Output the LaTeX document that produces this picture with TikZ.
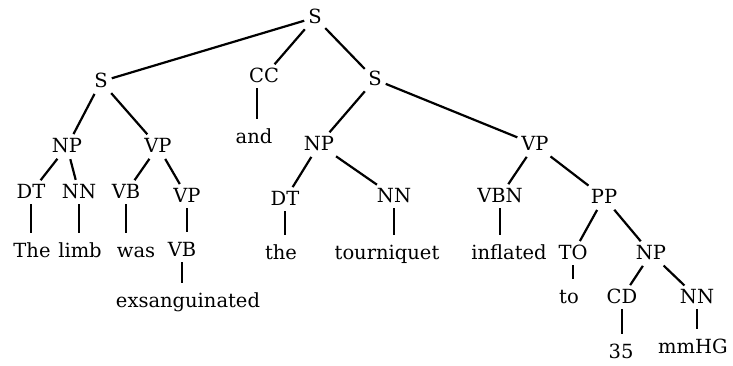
\documentclass[tikz,border=0pt]{standalone}
\usepackage{fontspec}
\setmainfont{DejaVu Serif}
\usepackage{tikz}
\usetikzlibrary{positioning}

\begin{document}
\begin{tikzpicture}[x=1pt, y=-1pt, font=\fontsize{19.5}{22}\selectfont,
  tag/.style={anchor=base, inner sep=2pt, text height=14pt, text depth=3pt},
  branch/.style={line width=2.2pt, shorten <=2pt, shorten >=2pt},
  stem/.style={line width=2.2pt, shorten <=1pt, shorten >=8pt}]
\useasboundingbox (0,0) rectangle (733,365);

%%% top level
\node [tag] (s0) at (315,23) {S};
\node [tag] (s1) at (101,87) {S};
\node [tag] (cc) at (264,82) {CC};
\node [tag] (s2) at (375,85) {S};
\node [tag] (and) at (254,143) {and};

%%% LEFT CLAUSE
\node [tag] (np1) at (67,152) {NP};
\node [tag] (vp1) at (158,152) {VP};
\node [tag] (dt1) at (31,198) {DT};
\node [tag] (nn1) at (79,198) {NN};
\node [tag] (vb1) at (126,198) {VB};
\node [tag] (vp3) at (187,202) {VP};
\node [tag] (w-the) at (32,257) {The};
\node [tag] (w-limb) at (80,257) {limb};
\node [tag] (w-was) at (136,257) {was};
\node [tag] (vb2) at (182,256) {VB};
\node [tag] (w-exs) at (188,307) {exsanguinated};

%%% RIGHT CLAUSE
\node [tag] (np2) at (319,150) {NP};
\node [tag] (vp2) at (535,150) {VP};
\node [tag] (dt2) at (285,205) {DT};
\node [tag] (nn2) at (394,202) {NN};
\node [tag] (vbn) at (500,202) {VBN};
\node [tag] (pp) at (604,203) {PP};
\node [tag] (w-the2) at (281,259) {the};
\node [tag] (w-tourniquet) at (387,259) {tourniquet};
\node [tag] (w-inflated) at (509,259) {inflated};
\node [tag] (to) at (573,259) {TO};
\node [tag] (np3) at (651,259) {NP};
\node [tag] (w-to) at (569,303) {to};
\node [tag] (cd) at (622,303) {CD};
\node [tag] (nn3) at (697,303) {NN};
\node [tag] (w-35) at (621,358) {35};
\node [tag] (w-mmhg) at (693,353) {mmHG};

%%% branches
\draw [branch] (s0) -- (s1);
\draw [branch] (s0) -- (cc);
\draw [branch] (s0) -- (s2);
\draw [branch] (s1) -- (np1);
\draw [branch] (s1) -- (vp1);
\draw [branch] (np1) -- (dt1);
\draw [branch] (np1) -- (nn1);
\draw [branch] (vp1) -- (vb1);
\draw [branch] (vp1) -- (vp3);
\draw [branch] (s2) -- (np2);
\draw [branch] (s2) -- (vp2);
\draw [branch] (np2) -- (dt2);
\draw [branch] (np2) -- (nn2);
\draw [branch] (vp2) -- (vbn);
\draw [branch] (vp2) -- (pp);
\draw [branch] (pp) -- (to);
\draw [branch] (pp) -- (np3);
\draw [branch] (np3) -- (cd);
\draw [branch] (np3) -- (nn3);

%%% stems down to the words
\draw [stem] ([xshift=-7pt]cc.south) -- ([xshift=-7pt]cc.south |- and.north);
\draw [stem] (dt1.south) -- (dt1.south |- w-the.north);
\draw [stem] (nn1.south) -- (nn1.south |- w-limb.north);
\draw [stem] (vb1.south) -- (vb1.south |- w-was.north);
\draw [stem] (vp3.south) -- (vp3.south |- vb2.north);
\draw [stem] (vb2.south) -- (vb2.south |- w-exs.north);
\draw [stem] (dt2.south) -- (dt2.south |- w-the2.north);
\draw [stem] (nn2.south) -- (nn2.south |- w-tourniquet.north);
\draw [stem] (vbn.south) -- (vbn.south |- w-inflated.north);
\draw [stem] (to.south) -- (to.south |- w-to.north);
\draw [stem] (cd.south) -- (cd.south |- w-35.north);
\draw [stem] (nn3.south) -- (nn3.south |- w-mmhg.north);

\end{tikzpicture}
\end{document}
